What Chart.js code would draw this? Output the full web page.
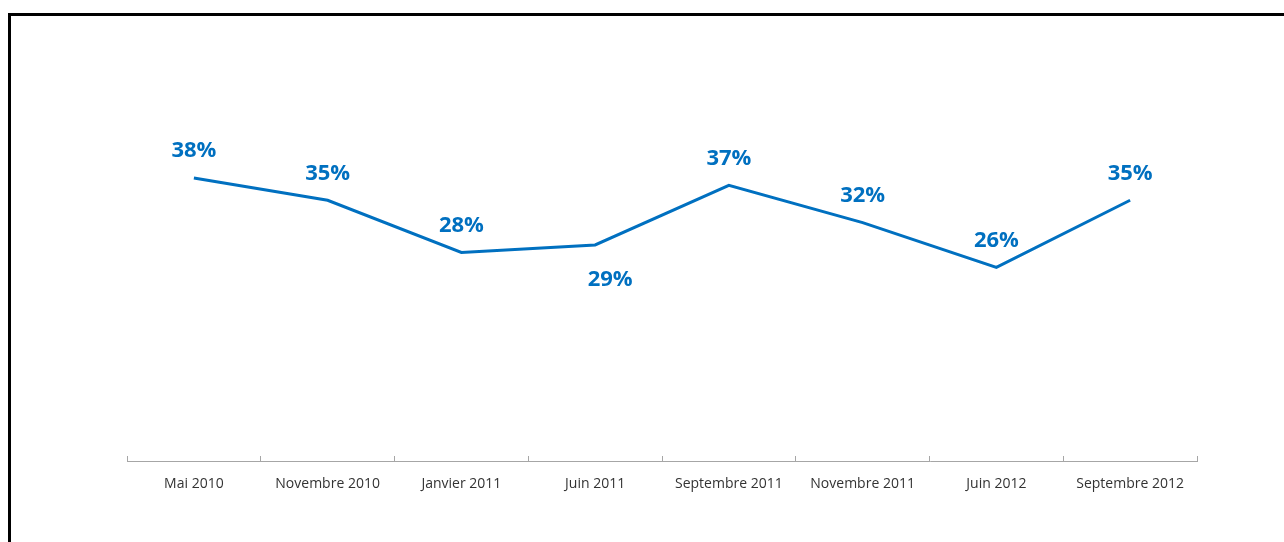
<!DOCTYPE html>
<html>
<head>
<meta charset="utf-8">
<script src="https://cdn.jsdelivr.net/npm/chart.js@4"></script>
<style>
  html, body { margin: 0; padding: 0; background: #fff; }
  #wrap { position: relative; width: 1284px; height: 542px; }
</style>
</head>
<body>
<div id="wrap"><canvas id="lineChart" width="1284" height="542"></canvas></div>
<script>
const periods = [
    'Mai 2010',
    'Novembre 2010',
    'Janvier 2011',
    'Juin 2011',
    'Septembre 2011',
    'Novembre 2011',
    'Juin 2012',
    'Septembre 2012'
];
const shares = [38, 35, 28, 29, 37, 32, 26, 35];
// label above the point, except where it sits below
const labelBelow = [false, false, false, true, false, false, false, false];

const blue = '#0070C0';

// frame line along top and left edges
const framePlugin = {
    id: 'frame',
    afterDraw: function (chart) {
        const c = chart.ctx;
        c.save();
        c.fillStyle = '#000';
        c.fillRect(8, 13, chart.width, 3);
        c.fillRect(8, 13, 3, chart.height);
        c.restore();
    }
};

const valueLabels = {
    id: 'valueLabels',
    afterDatasetsDraw: function (chart) {
        const c = chart.ctx;
        const meta = chart.getDatasetMeta(0);
        c.save();
        c.font = 'bold 22px "Open Sans"';
        c.fillStyle = blue;
        c.textAlign = 'center';
        c.textBaseline = 'middle';
        meta.data.forEach(function (pt, i) {
            const below = labelBelow[i];
            const x = pt.x + (below ? 15 : 0);
            const y = pt.y + (below ? 35 : -27);
            c.fillText(shares[i] + '%', x, y);
        });
        c.restore();
    }
};

const ctx = document.getElementById('lineChart').getContext('2d');
const chart = new Chart(ctx, {
    type: 'line',
    data: {
        labels: periods,
        datasets: [{
            data: shares,
            borderColor: blue,
            borderWidth: 3,
            pointRadius: 0,
            tension: 0,
            fill: false
        }]
    },
    options: {
        responsive: false,
        animation: false,
        layout: {
            padding: { top: 14, left: 127, right: 87, bottom: 0 }
        },
        scales: {
            x: {
                offset: true,
                afterFit: function (scale) { scale.height = 81; },
                grid: {
                    offset: true,
                    drawOnChartArea: false,
                    drawTicks: true,
                    tickLength: -5,
                    color: '#A6A6A6',
                    lineWidth: 1
                },
                border: { display: true, color: '#A6A6A6', width: 1 },
                ticks: {
                    color: '#333333',
                    padding: 20,
                    maxRotation: 0,
                    autoSkip: false,
                    font: { family: '"Open Sans"', size: 14 }
                }
            },
            y: {
                display: false,
                min: 0,
                max: 60
            }
        },
        plugins: {
            legend: { display: false },
            tooltip: { enabled: false }
        }
    },
    plugins: [framePlugin, valueLabels]
});
</script>
</body>
</html>
